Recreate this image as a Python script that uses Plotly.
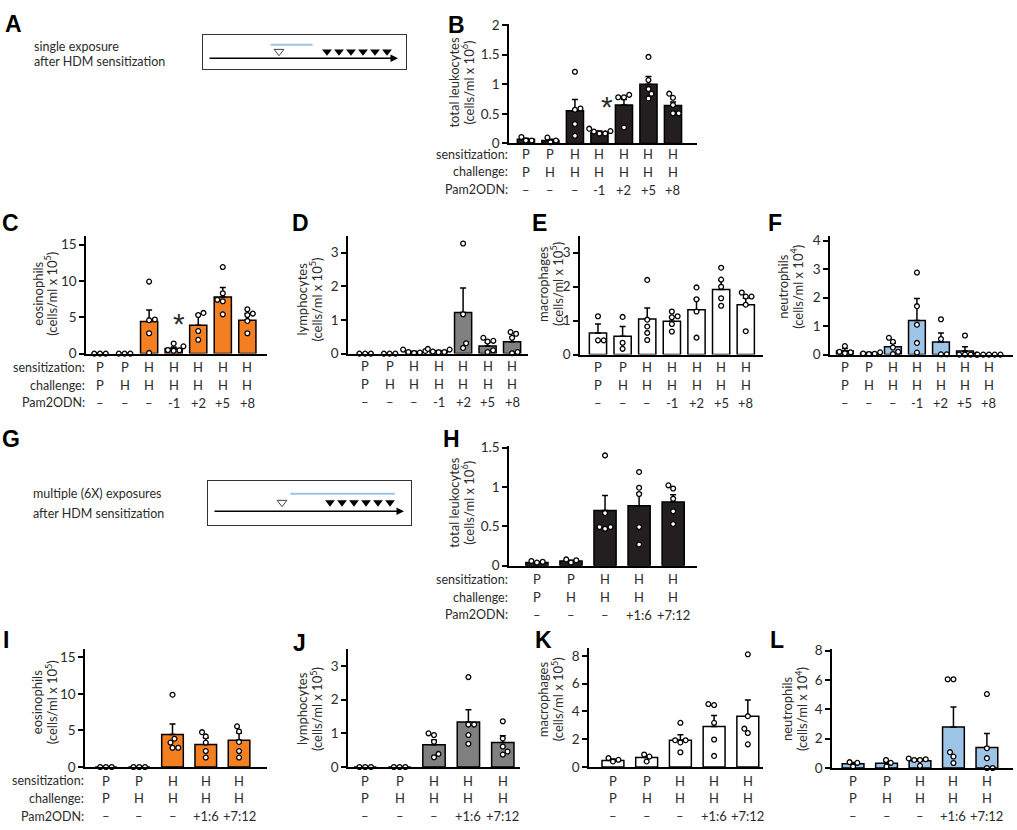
import plotly.graph_objects as go

W, H = 1017, 830
FONT = "Lato"
TXT = "#2b2b2b"


def px(x):
    return x / W


def py(y):
    return 1 - y / H


# ---- category rows under the bars ----
ROW_NAMES = ["sensitization:", "challenge:", "Pam2ODN:"]
SENS7 = ["P", "P", "H", "H", "H", "H", "H"]
CHAL7 = ["P", "H", "H", "H", "H", "H", "H"]
PAM7 = ["–", "–", "–", "-1", "+2", "+5", "+8"]
SENS5 = ["P", "P", "H", "H", "H"]
CHAL5 = ["P", "H", "H", "H", "H"]
PAM5 = ["–", "–", "–", "+1:6", "+7:12"]

# ---- single exposure (B-F) ----
b_mean = [0.07, 0.05, 0.55, 0.19, 0.65, 1.00, 0.64]
b_sem = [0.02, 0.02, 0.19, 0.02, 0.09, 0.13, 0.06]
b_pts = [[0.05, 0.11, 0.05], [0.02, 0.10, 0.05], [1.21, 0.59, 0.57, 0.33, 0.13],
         [0.17, 0.20, 0.25, 0.21, 0.17], [0.82, 0.78, 0.78, 0.27],
         [1.46, 1.07, 0.92, 0.84, 0.76], [0.84, 0.77, 0.65, 0.51, 0.51]]

c_mean = [0, 0, 4.4, 0.7, 3.9, 7.8, 4.6]
c_sem = [0, 0, 1.6, 0.2, 1.5, 1.3, 0.9]
c_pts = [[0, 0, 0], [0, 0, 0], [9.9, 4.7, 4.6, 2.8, 0.1], [1.4, 1.0, 0.5, 0.45, 0.4],
         [5.6, 5.3, 3.1, 1.9], [11.9, 8.3, 7.4, 7.2, 5.4], [6.1, 5.5, 5.3, 4.5, 2.8]]

d_mean = [0, 0, 0.05, 0.07, 1.22, 0.23, 0.35]
d_sem = [0, 0, 0.02, 0.02, 0.73, 0.1, 0.14]
d_pts = [[0, 0, 0], [0, 0, 0], [0.12, 0.08, 0.03, 0.02, 0.05], [0.12, 0.04, 0.06, 0.05, 0.14],
         [3.27, 1.17, 0.31, 0.17], [0.47, 0.38, 0.36, 0.1, 0.05], [0.64, 0.59, 0.47, 0.05, 0.01]]

e_mean = [0.64, 0.54, 1.05, 0.98, 1.32, 1.92, 1.47]
e_sem = [0.26, 0.29, 0.32, 0.12, 0.31, 0.27, 0.19]
e_pts = [[1.13, 0.42, 0.42], [1.11, 0.35, 0.17], [2.2, 1.03, 0.83, 0.64, 0.43],
         [1.27, 1.13, 1.1, 0.9, 0.68], [1.98, 1.63, 1.27, 0.5],
         [2.56, 2.21, 2.0, 1.66, 1.44], [1.83, 1.71, 1.71, 1.47, 0.69]]

f_mean = [0.13, 0.05, 0.28, 1.2, 0.44, 0.13, 0.0]
f_sem = [0.08, 0.02, 0.12, 0.77, 0.32, 0.15, 0]
f_pts = [[0.3, 0.1, 0.08, 0.05], [0.08, 0.03, 0.04, 0.02], [0.59, 0.45, 0.25, 0.1, 0.02],
         [2.88, 1.7, 1.05, 0.41, 0.07], [1.24, 0.55, 0.01, 0.01], [0.67, 0, 0, 0, 0],
         [0, 0, 0, 0, 0]]

# ---- multiple exposures (H-L) ----
h_mean = [0.04, 0.06, 0.70, 0.76, 0.81]
h_sem = [0.01, 0.01, 0.19, 0.16, 0.09]
h_pts = [[0.04, 0.06, 0.05], [0.04, 0.08, 0.07], [1.40, 0.67, 0.49, 0.49, 0.47],
         [1.19, 0.99, 0.91, 0.49, 0.27], [1.02, 0.98, 0.85, 0.69, 0.53]]

i_mean = [0, 0, 4.45, 3.07, 3.65]
i_sem = [0, 0, 1.42, 0.9, 1.0]
i_pts = [[0, 0, 0], [0, 0, 0], [9.88, 3.87, 3.34, 2.63, 2.63],
         [4.76, 4.18, 3.34, 2.18, 1.29], [5.56, 4.85, 3.43, 2.18, 1.29]]

j_mean = [0, 0, 0.66, 1.34, 0.73]
j_sem = [0, 0, 0.14, 0.36, 0.2]
j_pts = [[0, 0, 0], [0, 0, 0], [1.0, 0.95, 0.75, 0.39, 0.29],
         [2.67, 1.26, 1.26, 0.95, 0.69], [1.36, 0.85, 0.61, 0.46, 0.37]]

k_mean = [0.47, 0.68, 1.93, 2.92, 3.66]
k_sem = [0.1, 0.1, 0.4, 0.78, 1.17]
k_pts = [[0.64, 0.52, 0.4], [0.9, 0.75, 0.4], [3.18, 1.93, 1.93, 1.77, 1.06],
         [4.53, 4.46, 3.18, 1.98, 0.8], [8.11, 3.66, 2.76, 2.45, 1.63]]

l_mean = [0.29, 0.33, 0.49, 2.8, 1.39]
l_sem = [0.08, 0.1, 0.1, 1.35, 0.96]
l_pts = [[0.4, 0.35, 0.1], [0.55, 0.35, 0.1], [0.65, 0.6, 0.55, 0.55, 0.15],
         [6.05, 6.05, 1.08, 0.78, 0.34], [5.04, 1.35, 0.67, 0, 0]]

# ---- timeline schematics (days) ----
a_sens_day = 0
a_chal_days = [4, 5, 6, 7, 8, 9]
a_pam_window = [-0.7, 2.8]
g_sens_day = 0
g_chal_days = [4, 5, 6, 7, 8, 9]
g_pam_window = [0.7, 9.4]

ORANGE = "#F47F20"
GREY = "#808080"
BLUE = "#9DC3E6"
BLACK = "#231F20"
WHITE = "#FFFFFF"

panels = [
    dict(letter="B", mean=b_mean, sem=b_sem, pts=b_pts, color=BLACK, n=7, rows=True,
         box=(509, 697, 17, 139), xr=[-0.69, 6.98], yr=[0, 2.02], roff=11,
         yt=[0, 0.5, 1, 1.5, 2], ytt=["0", "0.5", "1", "1.5", "2"],
         title=("total leukocytes", "(cells/ml x 10<sup>6</sup>)"), tpos=(454, 468, 77),
         star=(3.3, 0.6), lpos=(446, 18)),
    dict(letter="C", mean=c_mean, sem=c_sem, pts=c_pts, color=ORANGE, n=7, rows=True,
         box=(86, 267, 233, 353), xr=[-0.57, 6.8], yr=[0, 16.2], roff=14,
         yt=[0, 5, 10, 15], ytt=["0", "5", "10", "15"],
         title=("eosinophils", "(cells/ml x 10<sup>5</sup>)"), tpos=(38, 51, 292),
         star=(3.2, 4.05), lpos=(0, 220)),
    dict(letter="D", mean=d_mean, sem=d_sem, pts=d_pts, color=GREY, n=7, rows=False,
         box=(348, 528, 233, 353), xr=[-0.7, 6.65], yr=[0, 3.5], roff=13,
         yt=[0, 1, 2, 3], ytt=["0", "1", "2", "3"],
         title=("lymphocytes", "(cells/ml x 10<sup>5</sup>)"), tpos=(302, 316, 298),
         star=None, lpos=(290, 220)),
    dict(letter="E", mean=e_mean, sem=e_sem, pts=e_pts, color=WHITE, n=7, rows=False,
         box=(580, 763, 233, 354), xr=[-0.73, 6.7], yr=[0, 3.5], roff=13,
         yt=[0, 1, 2, 3], ytt=["0", "1", "2", "3"],
         title=("macrophages", "(cells/ml x 10<sup>5</sup>)"), tpos=(543, 557, 282),
         star=None, lpos=(530, 220)),
    dict(letter="F", mean=f_mean, sem=f_sem, pts=f_pts, color=BLUE, n=7, rows=False,
         box=(830, 1013, 233, 354), xr=[-0.62, 7.0], yr=[0, 4.17], roff=13,
         yt=[0, 1, 2, 3, 4], ytt=["0", "1", "2", "3", "4"],
         title=("neutrophils", "(cells/ml x 10<sup>4</sup>)"), tpos=(783, 797, 285),
         star=None, lpos=(766, 220)),
    dict(letter="H", mean=h_mean, sem=h_sem, pts=h_pts, color=BLACK, n=5, rows=True,
         box=(509, 697, 447, 569), xr=[-0.82, 4.7], yr=[0, 1.52], roff=14,
         yt=[0, 0.5, 1, 1.5], ytt=["0", "0.5", "1", "1.5"],
         title=("total leukocytes", "(cells/ml x 10<sup>6</sup>)"), tpos=(454, 468, 505),
         star=None, lpos=(441, 440)),
    dict(letter="I", mean=i_mean, sem=i_sem, pts=i_pts, color=ORANGE, n=5, rows=True,
         box=(85, 267, 654, 774), xr=[-0.63, 4.84], yr=[0, 16.1], roff=14,
         yt=[0, 5, 10, 15], ytt=["0", "5", "10", "15"],
         title=("eosinophils", "(cells/ml x 10<sup>5</sup>)"), tpos=(37, 51, 708),
         star=None, lpos=(1, 645)),
    dict(letter="J", mean=j_mean, sem=j_sem, pts=j_pts, color=GREY, n=5, rows=False,
         box=(348, 520, 654, 774), xr=[-0.5, 4.5], yr=[0, 3.5], roff=14,
         yt=[0, 1, 2, 3], ytt=["0", "1", "2", "3"],
         title=("lymphocytes", "(cells/ml x 10<sup>5</sup>)"), tpos=(302, 316, 715),
         star=None, lpos=(291, 648)),
    dict(letter="K", mean=k_mean, sem=k_sem, pts=k_pts, color=WHITE, n=5, rows=False,
         box=(589, 763, 653, 774), xr=[-0.71, 4.45], yr=[0, 8.55], roff=14,
         yt=[0, 2, 4, 6, 8], ytt=["0", "2", "4", "6", "8"],
         title=("macrophages", "(cells/ml x 10<sup>5</sup>)"), tpos=(543, 557, 705),
         star=None, lpos=(533, 645)),
    dict(letter="L", mean=l_mean, sem=l_sem, pts=l_pts, color=BLUE, n=5, rows=False,
         box=(832, 1013, 654, 775), xr=[-0.63, 4.78], yr=[0, 8.1], roff=13,
         yt=[0, 2, 4, 6, 8], ytt=["0", "2", "4", "6", "8"],
         title=("neutrophils", "(cells/ml x 10<sup>4</sup>)"), tpos=(787, 801, 715),
         star=None, lpos=(768, 645)),
]


def swarm(vals, y_ppu, x_ppu, d=5.6):
    # simple beeswarm: each dot goes to the spot nearest the centre that is free
    order = sorted(range(len(vals)), key=lambda i: vals[i])
    placed = []
    offs = [0.0] * len(vals)
    for i in order:
        yy = vals[i] * y_ppu
        pos = None
        step = 0
        while pos is None:
            s = step * 0.25
            cands = [0.0] if step == 0 else ([s, -s] if len(placed) % 2 else [-s, s])
            for cx in cands:
                if all((cx - ax) ** 2 + (yy - ay) ** 2 >= d * d - 1e-6 for ax, ay in placed):
                    pos = cx
                    break
            step += 1
        placed.append((pos, yy))
        offs[i] = pos / x_ppu
    return offs


fig = go.Figure()
annotations = []

for k, p in enumerate(panels, start=1):
    x0, x1, y0, y1 = p["box"]
    xa, ya = f"x{k}", f"y{k}"
    n = p["n"]
    cats = list(range(n))
    if n == 7:
        rows = [SENS7, CHAL7, PAM7]
        bw = 0.7
    else:
        rows = [SENS5, CHAL5, PAM5]
        bw = 0.65

    fig.add_trace(go.Bar(
        x=cats, y=p["mean"], width=bw, xaxis=xa, yaxis=ya,
        marker=dict(color=p["color"], line=dict(color="black", width=1.5)),
        error_y=dict(type="data", symmetric=False, array=p["sem"],
                     arrayminus=[0] * n, color="black", thickness=1.5, width=3),
    ))

    x_ppu = (x1 - x0) / (p["xr"][1] - p["xr"][0])
    y_ppu = (y1 - y0) / (p["yr"][1] - p["yr"][0])
    xs, ys = [], []
    for c, vals in zip(cats, p["pts"]):
        offs = swarm(vals, y_ppu, x_ppu)
        xs += [c + o for o in offs]
        ys += vals
    fig.add_trace(go.Scatter(
        x=xs, y=ys, mode="markers", xaxis=xa, yaxis=ya, cliponaxis=False,
        marker=dict(size=4.8, color="white", line=dict(color="black", width=1.3)),
    ))

    fig.layout[f"xaxis{k}"] = dict(
        domain=[px(x0), px(x1)], range=p["xr"], anchor=ya,
        tickvals=cats, showticklabels=False, ticks="", showgrid=False, zeroline=False,
        showline=True, linecolor="black", linewidth=1.5, fixedrange=True,
    )
    fig.layout[f"yaxis{k}"] = dict(
        domain=[py(y1), py(y0)], range=p["yr"], anchor=xa,
        tickvals=p["yt"], ticktext=p["ytt"], ticks="outside", ticklen=5, tickwidth=1.5,
        tickcolor="black", showgrid=False, zeroline=False,
        showline=True, linecolor="black", linewidth=1.5,
        tickfont=dict(family=FONT, size=13.5, color=TXT), fixedrange=True,
    )

    # group rows under each bar, placed on the x axis scale
    for r, row in enumerate(rows):
        ry = py(y1 + p["roff"] + 18 * r)
        for c, lab in zip(cats, row):
            annotations.append(dict(
                text=lab, x=c, y=ry, xref=xa, yref="paper",
                xanchor="center", yanchor="middle", showarrow=False,
                font=dict(family=FONT, size=13, color=TXT),
            ))
        if p["rows"]:
            annotations.append(dict(
                text=ROW_NAMES[r], x=px(x0 + 1), y=ry, xref="paper", yref="paper",
                xanchor="right", yanchor="middle", showarrow=False,
                font=dict(family=FONT, size=12.5, color=TXT),
            ))

    # two-line rotated y title
    t1x, t2x, ty = p["tpos"]
    for txt, tx in zip(p["title"], (t1x, t2x)):
        annotations.append(dict(
            text=txt, x=px(tx), y=py(ty), xref="paper", yref="paper",
            xanchor="center", yanchor="middle", textangle=-90, showarrow=False,
            font=dict(family=FONT, size=13, color=TXT),
        ))

    if p["star"]:
        annotations.append(dict(
            text="*", x=p["star"][0], y=p["star"][1], xref=xa, yref=ya,
            showarrow=False, yshift=1,
            font=dict(family="Liberation Sans", size=30, color=TXT),
        ))

    lx, ly = p["lpos"]
    annotations.append(dict(
        text=f"<b>{p['letter']}</b>", x=px(lx), y=py(ly), xref="paper", yref="paper",
        xanchor="left", yanchor="middle", showarrow=False,
        font=dict(family="Liberation Sans", size=23, color="black"),
    ))

# ---- schematics A and G ----
schem = [
    dict(letter="A", k=11, box=(203, 406, 29, 63), origin=279, sens=a_sens_day,
         chal=a_chal_days, pam=a_pam_window, arrow=(208, 398),
         lines=("single exposure", "after HDM sensitization"), tx=32, ty=(40, 56),
         lpos=(3, 17)),
    dict(letter="G", k=12, box=(208, 411, 483, 528), origin=282, sens=g_sens_day,
         chal=g_chal_days, pam=g_pam_window, arrow=(213, 404),
         lines=("multiple (6X) exposures", "after HDM sensitization"), tx=31, ty=(495, 516),
         lpos=(0, 440)),
]
DAY_PX = 12.0
for s in schem:
    k = s["k"]
    x0, x1, y0, y1 = s["box"]
    xa, ya = f"x{k}", f"y{k}"
    xr = [(x0 - s["origin"]) / DAY_PX, (x1 - s["origin"]) / DAY_PX]
    fig.layout[f"xaxis{k}"] = dict(domain=[px(x0), px(x1)], range=xr, anchor=ya,
                                   showline=True, mirror=True, linecolor="#333", linewidth=1,
                                   showticklabels=False, ticks="", showgrid=False,
                                   zeroline=False, fixedrange=True)
    fig.layout[f"yaxis{k}"] = dict(domain=[py(y1), py(y0)], range=[0, 1], anchor=xa,
                                   showline=True, mirror=True, linecolor="#333", linewidth=1,
                                   showticklabels=False, ticks="", showgrid=False,
                                   zeroline=False, fixedrange=True)
    fig.add_trace(go.Scatter(x=s["pam"], y=[0.72, 0.72], mode="lines", xaxis=xa, yaxis=ya,
                             line=dict(color=BLUE, width=2)))
    fig.add_trace(go.Scatter(x=s["chal"], y=[0.52] * len(s["chal"]), mode="markers",
                             xaxis=xa, yaxis=ya,
                             marker=dict(symbol="triangle-down", size=8.5, color="black")))
    fig.add_trace(go.Scatter(x=[s["sens"]], y=[0.52], mode="markers", xaxis=xa, yaxis=ya,
                             marker=dict(symbol="triangle-down-open", size=8.5, color="#444",
                                         line=dict(width=1))))
    ax0, ax1 = s["arrow"]
    annotations.append(dict(
        x=(ax1 - s["origin"]) / DAY_PX, y=0.32, ax=(ax0 - s["origin"]) / DAY_PX, ay=0.32,
        xref=xa, yref=ya, axref=xa, ayref=ya, text="", showarrow=True,
        arrowhead=2, arrowsize=1, arrowwidth=1.5, arrowcolor="black",
    ))
    for txt, ty in zip(s["lines"], s["ty"]):
        annotations.append(dict(
            text=txt, x=px(s["tx"]), y=py(ty), xref="paper", yref="paper",
            xanchor="left", yanchor="middle", showarrow=False,
            font=dict(family=FONT, size=12.5, color=TXT),
        ))
    lx, ly = s["lpos"]
    annotations.append(dict(
        text=f"<b>{s['letter']}</b>", x=px(lx), y=py(ly), xref="paper", yref="paper",
        xanchor="left", yanchor="middle", showarrow=False,
        font=dict(family="Liberation Sans", size=23, color="black"),
    ))

fig.update_layout(
    width=W, height=H, margin=dict(l=0, r=0, t=0, b=0),
    paper_bgcolor="white", plot_bgcolor="white", showlegend=False,
    font=dict(family=FONT, color=TXT), annotations=annotations,
)

fig.write_html("out.html", config={"displayModeBar": False},
               post_script="document.body.style.margin='0';document.body.style.overflow='hidden';")
